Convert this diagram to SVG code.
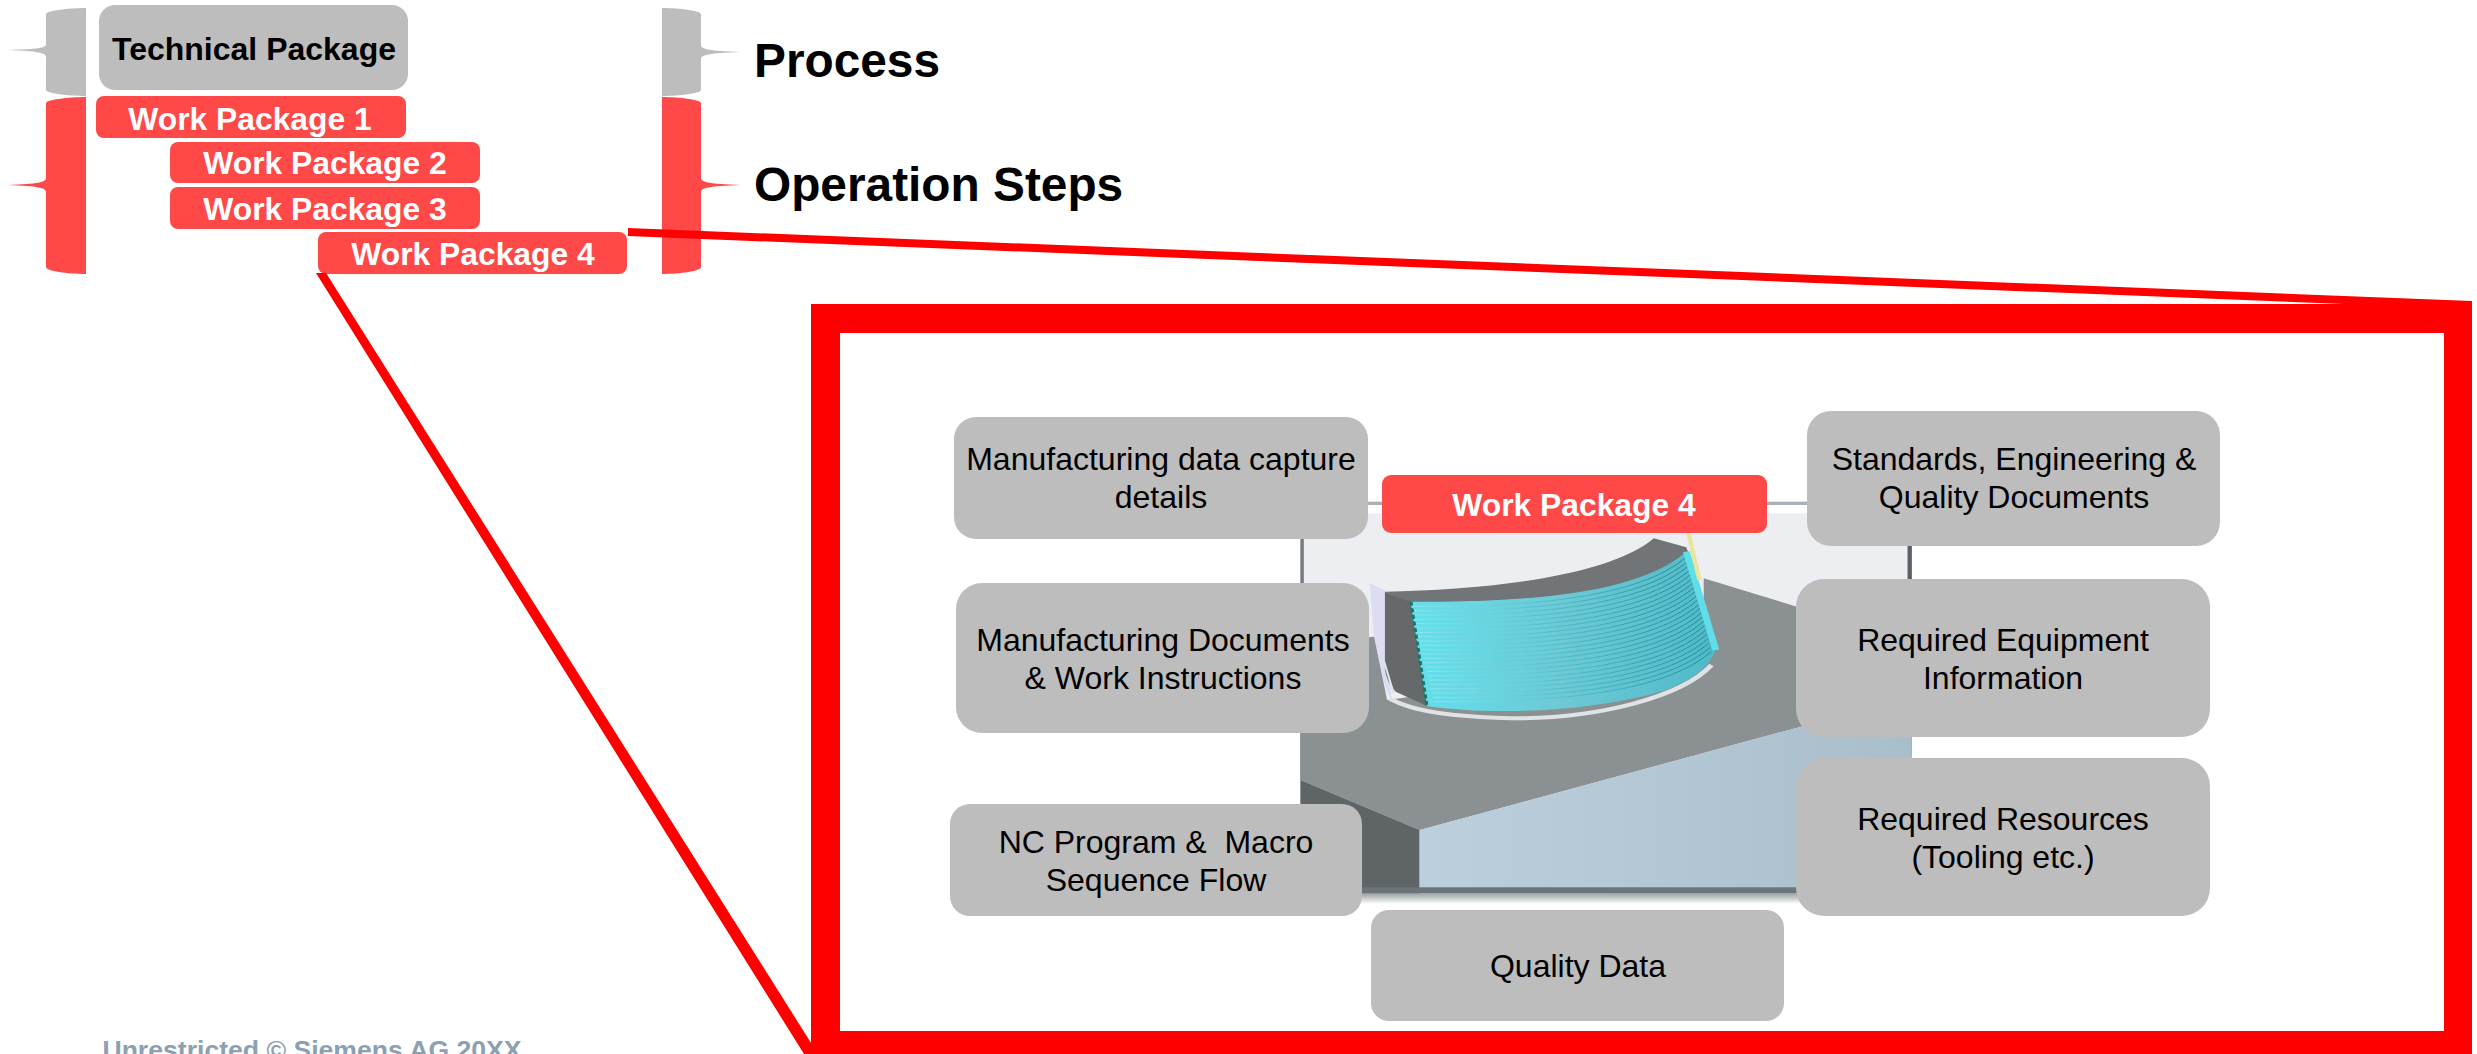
<svg xmlns="http://www.w3.org/2000/svg" xmlns:xlink="http://www.w3.org/1999/xlink" width="2477" height="1054" viewBox="0 0 2477 1054">
<style>
text{font-family:"Liberation Sans",Arial,sans-serif;text-anchor:middle}
.g{fill:#bdbdbd}.r{fill:#ff4848}
.n{font-size:32px;fill:#000}
.w{font-size:31.8px;font-weight:700;fill:#fff}
.h{font-size:47.8px;font-weight:700;fill:#000;text-anchor:start}
.ln{fill:none;stroke:url(#lg);stroke-width:2.2}
</style>
<defs>
<linearGradient id="cy" x1="0" y1="0" x2="1" y2="0"><stop offset="0" stop-color="#63e0ec"/><stop offset=".5" stop-color="#6cc9d5"/><stop offset="1" stop-color="#4fb9c8"/></linearGradient>
<linearGradient id="lg" gradientUnits="userSpaceOnUse" x1="325" y1="0" x2="1020" y2="0"><stop offset="0" stop-color="#8fe6ee"/><stop offset=".55" stop-color="#3fb0bf"/><stop offset="1" stop-color="#0f7480"/></linearGradient>
<linearGradient id="bl" x1="0" y1="0" x2="1" y2="0"><stop offset="0" stop-color="#bccfdc"/><stop offset="1" stop-color="#a9becb"/></linearGradient>
<linearGradient id="fr" x1="0" y1="0" x2="0" y2="1"><stop offset="0" stop-color="#9aa0a3"/><stop offset="1" stop-color="#fff"/></linearGradient>
<clipPath id="cs"><path d="M325 395C600 398 850 370 960 245L1028 540C1010 600 960 640 900 665C720 730 500 735 362 708Z"/></clipPath>
<path id="cl" d="M320 395C600 398 850 370 960 245"/>
</defs>
<rect width="2477" height="1054" fill="#fff"/>

<g id="brace-left-process"><path class="g" d="M86 8V96C68 96 46 93 46 90V57C46 53 38 51 8 50C38 49 46 48 46 44V14C46 11 68 8 86 8Z"/></g>
<g id="brace-left-steps"><path class="r" d="M86 97V274C68 274 46 271 46 267V192C46 188 38 186 8 185C38 184 46 182 46 178V103C46 100 68 97 86 97Z"/></g>
<g id="brace-right-process"><path class="g" d="M662 8V96C680 96 701 93 701 90V59C701 55 709 53 741 52C709 51 701 49 701 45V14C701 11 680 8 662 8Z"/></g>
<g id="brace-right-steps"><path class="r" d="M662 97V274C680 274 701 271 701 267V192C701 188 709 186 741 185C709 184 701 182 701 178V103C701 100 680 97 662 97Z"/></g>

<g id="technical-package"><rect class="g" x="99" y="5" width="309" height="85" rx="16"/><text x="254" y="60" font-size="32" font-weight="700" fill="#000">Technical Package</text></g>
<g id="work-package-1"><rect class="r" x="96" y="96" width="310" height="42" rx="8"/><text class="w" x="250" y="130">Work Package 1</text></g>
<g id="work-package-2"><rect class="r" x="170" y="142" width="310" height="41" rx="8"/><text class="w" x="325" y="174">Work Package 2</text></g>
<g id="work-package-3"><rect class="r" x="170" y="187" width="310" height="42" rx="8"/><text class="w" x="325" y="220">Work Package 3</text></g>
<g id="work-package-4"><rect class="r" x="318" y="232" width="309" height="42" rx="8"/><text class="w" x="473" y="265">Work Package 4</text></g>

<g id="label-process"><text class="h" x="754" y="77">Process</text></g>
<g id="label-operation-steps"><text class="h" x="754" y="201">Operation Steps</text></g>
<g id="footer"><text x="312" y="1059" font-size="26.6" font-weight="700" fill="#8ba0b0">Unrestricted © Siemens AG 20XX</text></g>

<g id="part-picture" transform="translate(1270 470) scale(.4337 .3333)">
<rect x="-180" y="95" width="1680" height="10" fill="#aab0b4"/>
<rect x="62" y="105" width="1430" height="1165" fill="#fff"/>
<rect x="70" y="130" width="1410" height="1140" fill="#eceef2"/>
<rect x="70" y="130" width="8" height="800" fill="#777c80"/>
<rect x="1470" y="130" width="10" height="730" fill="#5c6165"/>
<rect x="70" y="1270" width="1410" height="32" fill="url(#fr)"/>
<path d="M230 340L240 500L265 650L280 690L265 360Z" fill="#dcdcf2"/>
<path d="M70 930V520L240 500L270 690L1000 560L1000 325L1480 515V680L345 1080Z" fill="#8b9092"/>
<path d="M70 930L345 1080V1270H70Z" fill="#5f6466"/>
<path d="M345 1080L1480 680V1270H345Z" fill="url(#bl)"/>
<rect x="70" y="1252" width="1410" height="18" fill="#6b7478"/>
<path d="M265 365C500 360 780 320 885 205L960 232L968 260C850 370 600 398 325 397Z" fill="#727577"/>
<path d="M265 365L325 395L362 708L290 665Q270 640 265 600Z" fill="#66696b"/>
<path d="M325 395C600 398 850 370 960 245L1028 540C1010 600 960 640 900 665C720 730 500 735 362 708Z" fill="url(#cy)"/>
<g clip-path="url(#cs)">
<use xlink:href="#cl" class="ln" y="14" x="2"/><use xlink:href="#cl" class="ln" y="27" x="5"/><use xlink:href="#cl" class="ln" y="40" x="7"/><use xlink:href="#cl" class="ln" y="53" x="10"/><use xlink:href="#cl" class="ln" y="66" x="12"/><use xlink:href="#cl" class="ln" y="79" x="15"/><use xlink:href="#cl" class="ln" y="92" x="17"/><use xlink:href="#cl" class="ln" y="105" x="20"/><use xlink:href="#cl" class="ln" y="118" x="22"/><use xlink:href="#cl" class="ln" y="131" x="25"/><use xlink:href="#cl" class="ln" y="144" x="27"/><use xlink:href="#cl" class="ln" y="157" x="30"/><use xlink:href="#cl" class="ln" y="170" x="32"/><use xlink:href="#cl" class="ln" y="183" x="35"/><use xlink:href="#cl" class="ln" y="196" x="37"/><use xlink:href="#cl" class="ln" y="209" x="40"/><use xlink:href="#cl" class="ln" y="222" x="42"/><use xlink:href="#cl" class="ln" y="235" x="45"/><use xlink:href="#cl" class="ln" y="248" x="47"/><use xlink:href="#cl" class="ln" y="261" x="50"/><use xlink:href="#cl" class="ln" y="274" x="52"/><use xlink:href="#cl" class="ln" y="287" x="55"/><use xlink:href="#cl" class="ln" y="300" x="57"/>
</g>
<path d="M325 395L362 708" fill="none" stroke="#0f7a6a" stroke-width="7" stroke-dasharray="12 8"/>
<path d="M960 245L1028 540" fill="none" stroke="#5fdde8" stroke-width="16"/>
<path d="M965 190L990 330" fill="none" stroke="#e9e39c" stroke-width="10"/>
<path d="M275 685C330 725 420 740 560 745C760 745 950 680 1018 585" fill="none" stroke="#dfe3e5" stroke-width="12"/>
<path d="M262 570L285 670" fill="none" stroke="#dfe3e5" stroke-width="5"/>
</g>

<g id="connectors" fill="#f00">
<path d="M628 228L2472 301V309L628 236Z"/>
<path d="M316 273H326L818 1054H804Z"/>
<path fill-rule="evenodd" d="M811 304H2472V1060H811ZM840 333V1031H2444V333Z"/>
</g>

<g id="wp4-title"><rect class="r" x="1382" y="475" width="385" height="58" rx="9"/><text class="w" x="1574" y="516">Work Package 4</text></g>
<g id="manufacturing-data"><rect class="g" x="954" y="417" width="414" height="122" rx="22"/><text class="n" x="1161" y="470">Manufacturing data capture</text><text class="n" x="1161" y="508">details</text></g>
<g id="standards"><rect class="g" x="1807" y="411" width="413" height="135" rx="24"/><text class="n" x="2014" y="470">Standards, Engineering &amp;</text><text class="n" x="2014" y="508">Quality Documents</text></g>
<g id="manufacturing-documents"><rect class="g" x="956" y="583" width="413" height="150" rx="26"/><text class="n" x="1163" y="651">Manufacturing Documents</text><text class="n" x="1163" y="689">&amp; Work Instructions</text></g>
<g id="required-equipment"><rect class="g" x="1796" y="579" width="414" height="158" rx="28"/><text class="n" x="2003" y="651">Required Equipment</text><text class="n" x="2003" y="689">Information</text></g>
<g id="nc-program"><rect class="g" x="950" y="804" width="412" height="112" rx="20"/><text class="n" x="1156" y="853" xml:space="preserve">NC Program &amp;  Macro</text><text class="n" x="1156" y="891">Sequence Flow</text></g>
<g id="required-resources"><rect class="g" x="1796" y="758" width="414" height="158" rx="28"/><text class="n" x="2003" y="830">Required Resources</text><text class="n" x="2003" y="868">(Tooling etc.)</text></g>
<g id="quality-data"><rect class="g" x="1371" y="910" width="413" height="111" rx="18"/><text class="n" x="1578" y="977">Quality Data</text></g>
</svg>
